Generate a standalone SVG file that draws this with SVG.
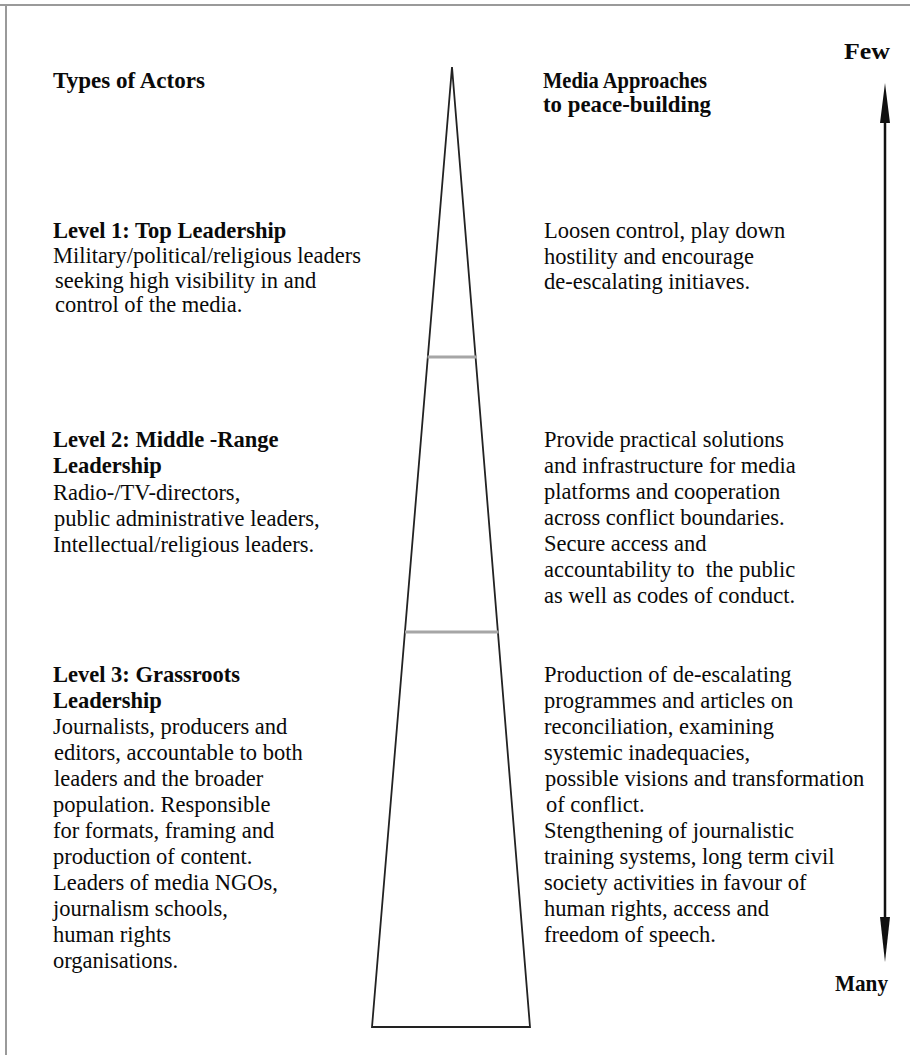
<svg xmlns="http://www.w3.org/2000/svg" width="910" height="1055" viewBox="0 0 910 1055">
  <style>
    text { font-family: "Liberation Serif", "Times New Roman", serif; font-size: 22.5px; fill: #0a0a0a; }
    .b { font-weight: bold; }
    .frame { stroke: #9a9a9a; stroke-width: 2; fill: none; }
    .edge { stroke: #222; stroke-width: 1.8; fill: none; stroke-linejoin: miter; }
    .divider { stroke: #a6a6a6; stroke-width: 3; }
    .shaft { stroke: #111; stroke-width: 2.5; }
    .head { fill: #111; }
  </style>

  <rect width="910" height="1055" fill="#ffffff"/>

  <!-- page frame -->
  <g id="frame">
    <line class="frame" x1="0" y1="5" x2="910" y2="5"/>
    <line class="frame" x1="6" y1="5" x2="6" y2="1055"/>
  </g>

  <!-- column headings -->
  <g id="actors-header">
    <text class="b" x="53" y="88" textLength="152" lengthAdjust="spacingAndGlyphs">Types of Actors</text>
  </g>
  <g id="media-header">
    <text class="b" x="543" y="88" textLength="164" lengthAdjust="spacingAndGlyphs">Media Approaches</text>
    <text class="b" x="543" y="112" textLength="168" lengthAdjust="spacingAndGlyphs">to peace-building</text>
  </g>

  <!-- pyramid with level dividers -->
  <g id="pyramid">
    <polygon class="edge" points="452,67 530,1027 372,1027"/>
    <line class="divider" x1="427.5" y1="357" x2="477" y2="357"/>
    <line class="divider" x1="405" y1="632" x2="498.5" y2="632"/>
  </g>

  <!-- level 1 -->
  <g id="level1-actors">
    <text class="b" x="53" y="238">Level 1: Top Leadership</text>
    <text x="53" y="263">Military/political/religious leaders</text>
    <text x="55" y="288">seeking high visibility in and</text>
    <text x="55" y="312">control of the media.</text>
  </g>
  <g id="level1-media">
    <text x="544" y="238">Loosen control, play down</text>
    <text x="544" y="264">hostility and encourage</text>
    <text x="544" y="289">de-escalating initiaves.</text>
  </g>

  <!-- level 2 -->
  <g id="level2-actors">
    <text class="b" x="53" y="447">Level 2: Middle -Range</text>
    <text class="b" x="53" y="473">Leadership</text>
    <text x="53" y="500">Radio-/TV-directors,</text>
    <text x="54" y="526">public administrative leaders,</text>
    <text x="53" y="552">Intellectual/religious leaders.</text>
  </g>
  <g id="level2-media">
    <text x="544" y="447">Provide practical solutions</text>
    <text x="544" y="473">and infrastructure for media</text>
    <text x="544" y="499">platforms and cooperation</text>
    <text x="544" y="525">across conflict boundaries.</text>
    <text x="544" y="551">Secure access and</text>
    <text x="544" y="577" xml:space="preserve">accountability to  the public</text>
    <text x="544" y="603">as well as codes of conduct.</text>
  </g>

  <!-- level 3 -->
  <g id="level3-actors">
    <text class="b" x="53" y="682">Level 3: Grassroots</text>
    <text class="b" x="53" y="708">Leadership</text>
    <text x="53" y="734">Journalists, producers and</text>
    <text x="54" y="760">editors, accountable to both</text>
    <text x="54" y="786">leaders and the broader</text>
    <text x="53" y="812">population. Responsible</text>
    <text x="53" y="838">for formats, framing and</text>
    <text x="53" y="864">production of content.</text>
    <text x="53" y="890">Leaders of media NGOs,</text>
    <text x="53" y="916">journalism schools,</text>
    <text x="53" y="942">human rights</text>
    <text x="53" y="968">organisations.</text>
  </g>
  <g id="level3-media">
    <text x="544" y="682">Production of de-escalating</text>
    <text x="544" y="708">programmes and articles on</text>
    <text x="544" y="734">reconciliation, examining</text>
    <text x="544" y="760">systemic inadequacies,</text>
    <text x="545" y="786">possible visions and transformation</text>
    <text x="546" y="812">of conflict.</text>
    <text x="544" y="838">Stengthening of journalistic</text>
    <text x="544" y="864">training systems, long term civil</text>
    <text x="544" y="890">society activities in favour of</text>
    <text x="544" y="916">human rights, access and</text>
    <text x="544" y="942">freedom of speech.</text>
  </g>

  <!-- few / many scale -->
  <g id="scale-labels">
    <text class="b" x="844" y="59" textLength="46" lengthAdjust="spacingAndGlyphs">Few</text>
    <text class="b" x="835" y="991" textLength="53" lengthAdjust="spacingAndGlyphs">Many</text>
  </g>
  <g id="connectors">
    <line class="shaft" x1="885" y1="115" x2="885" y2="925"/>
    <polygon class="head" points="885,83 890,123 880,123"/>
    <polygon class="head" points="885,962 880,917 890,917"/>
  </g>
</svg>
